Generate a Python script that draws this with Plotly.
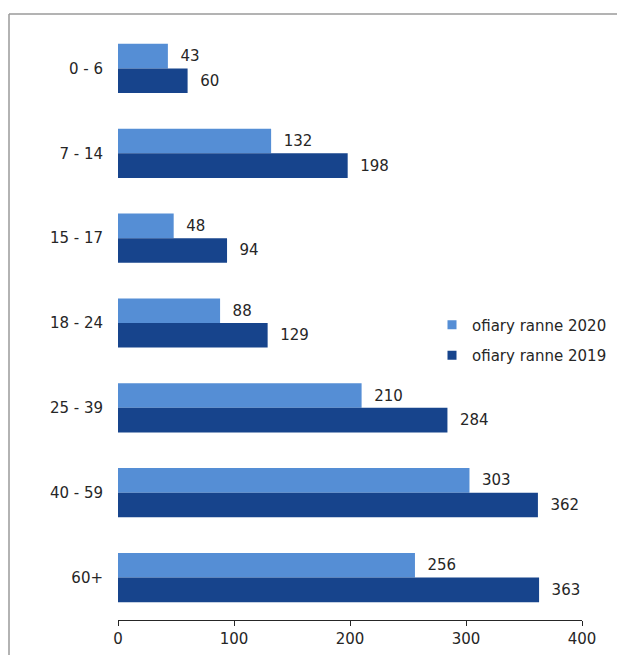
import plotly.graph_objects as go

categories = ["0 - 6", "7 - 14", "15 - 17", "18 - 24", "25 - 39", "40 - 59", "60+"]
ranne_2020 = [43, 132, 48, 88, 210, 303, 256]
ranne_2019 = [60, 198, 94, 129, 284, 362, 363]
x_ticks = [0, 100, 200, 300, 400]
series_names = ["ofiary ranne 2020", "ofiary ranne 2019"]
series_colors = ["#558ED5", "#17448C"]

FONT = "DejaVu Sans"
FS = 15
TXT = "#262626"

fig = go.Figure()
for name, vals, col in zip(series_names, [ranne_2020, ranne_2019], series_colors):
    fig.add_trace(go.Bar(
        y=categories, x=vals, orientation="h", name=name, showlegend=False,
        marker=dict(color=col, line=dict(width=0)),
        text=vals, texttemplate="  %{x}", textposition="outside", cliponaxis=False,
        textfont=dict(family=FONT, size=FS, color=TXT),
    ))
# legend-only entries with small square markers
for i, (name, col) in enumerate(zip(series_names, series_colors)):
    fig.add_trace(go.Scatter(
        x=[None], y=[None], mode="markers", name=name, legendgroup=f"g{i}",
        marker=dict(symbol="square", size=9, color=col),
    ))

W, H = 617, 655
L, R, T, B = 118, 35, 26, 35
pw = W - L - R
ph = H - T - B

x_left = (9 - L) / pw
y_top = 1 + (T - 14) / ph
frame = dict(color="#9a9a9a", width=1.5)

fig.update_layout(
    width=W, height=H,
    margin=dict(l=L, r=R, t=T, b=B, autoexpand=False),
    paper_bgcolor="white", plot_bgcolor="white",
    barmode="group", bargap=0.42, bargroupgap=0,
    font=dict(family=FONT, size=FS, color=TXT),
    showlegend=True,
    legend=dict(
        xref="container", yref="container",
        x=432 / W, y=1 - 340 / H, xanchor="left", yanchor="middle",
        font=dict(family=FONT, size=FS, color=TXT),
        bgcolor="rgba(0,0,0,0)", itemwidth=30,
        traceorder="grouped", tracegroupgap=8,
    ),
    shapes=[
        dict(type="line", xref="paper", yref="paper",
             x0=x_left, x1=1.5, y0=y_top, y1=y_top, line=frame, layer="below"),
        dict(type="line", xref="paper", yref="paper",
             x0=x_left, x1=x_left, y0=-0.5, y1=y_top, line=frame, layer="below"),
    ],
)
fig.update_xaxes(
    range=[0, 400], tickvals=x_ticks, showgrid=False, zeroline=False,
    showline=True, linecolor=TXT, linewidth=1,
    ticks="outside", ticklen=5, tickcolor=TXT,
    tickfont=dict(family=FONT, size=FS, color=TXT),
)
fig.update_yaxes(
    autorange="reversed", showgrid=False, zeroline=False, showline=False,
    ticks="", ticklabelstandoff=14,
    tickfont=dict(family=FONT, size=FS, color=TXT),
)

fig.write_html(
    "out.html",
    config={"displayModeBar": False},
    post_script="document.body.style.margin='0';document.body.style.overflow='hidden';",
)
